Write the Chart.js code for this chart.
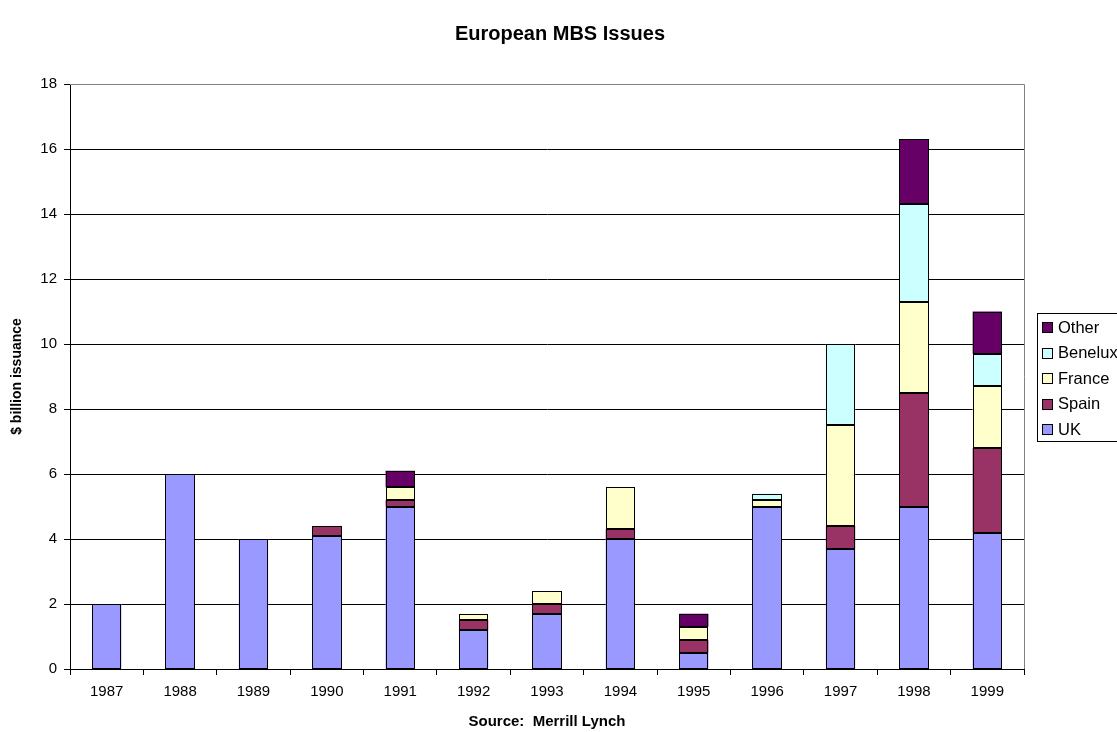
<!DOCTYPE html>
<html>
<head>
<meta charset="utf-8">
<script src="https://cdn.jsdelivr.net/npm/chart.js@4/dist/chart.umd.min.js"></script>
<style>
  body { margin: 0; background: #fff; }
  #wrap { width: 1117px; height: 732px; position: relative; }
</style>
</head>
<body>
<div id="wrap"><canvas id="mycanvas" width="1117" height="732"></canvas></div>
<script>
var years = ['1987', '1988', '1989', '1990', '1991', '1992', '1993', '1994', '1995', '1996', '1997', '1998', '1999'];
var uk      = [2.0, 6.0, 4.0, 4.1, 5.0, 1.2, 1.7, 4.0, 0.5, 5.0, 3.7, 5.0, 4.2];
var spain   = [0,   0,   0,   0.3, 0.2, 0.3, 0.3, 0.3, 0.4, 0,   0.7, 3.5, 2.6];
var france  = [0,   0,   0,   0,   0.4, 0.2, 0.4, 1.3, 0.4, 0.2, 3.1, 2.8, 1.9];
var benelux = [0,   0,   0,   0,   0,   0,   0,   0,   0,   0.2, 2.5, 3.0, 1.0];
var other   = [0,   0,   0,   0,   0.5, 0,   0,   0,   0.4, 0,   0,   2.0, 1.3];
var yTicks = [0, 2, 4, 6, 8, 10, 12, 14, 16, 18];

var fontFam = "'Liberation Sans', Arial, sans-serif";

function ds(label, data, color) {
	return {
		label: label,
		// empty segments are left out so they draw no border line
		data: data.map(function(v) { return v === 0 ? null : v; }),
		backgroundColor: color,
		borderWidth: 0,
		barPercentage: 0.4,
		categoryPercentage: 1.0
	};
}

var chartdata = {
	labels: years,
	datasets: [
		ds('UK', uk, '#9999FF'),
		ds('Spain', spain, '#993366'),
		ds('France', france, '#FFFFCC'),
		ds('Benelux', benelux, '#CCFFFF'),
		ds('Other', other, '#660066')
	]
};

// title, plot frame, crisp bar outlines and legend box
var extras = {
	id: 'extras',
	beforeDatasetsDraw: function(chart) {
		var ctx = chart.ctx, a = chart.chartArea;
		ctx.save();
		ctx.strokeStyle = '#808080';
		ctx.lineWidth = 1;
		ctx.beginPath();
		ctx.moveTo(a.left, a.top + 0.5);
		ctx.lineTo(a.right + 0.5, a.top + 0.5);
		ctx.lineTo(a.right + 0.5, a.bottom);
		ctx.stroke();
		ctx.restore();
	},
	afterDatasetsDraw: function(chart) {
		var ctx = chart.ctx;
		ctx.save();
		ctx.strokeStyle = '#000';
		ctx.lineWidth = 1;
		chart.data.datasets.forEach(function(d, i) {
			chart.getDatasetMeta(i).data.forEach(function(el, j) {
				if (d.data[j] == null) return;
				var p = el.getProps(['x', 'y', 'base', 'width'], true);
				var l = Math.round(p.x - p.width / 2) + 0.5;
				var r = Math.round(p.x + p.width / 2) - 0.5;
				var t = Math.round(p.y) + 0.5;
				var b = Math.round(p.base) - 0.5;
				ctx.strokeRect(l, t, r - l, b - t);
			});
		});
		ctx.restore();
	},
	afterDraw: function(chart) {
		var ctx = chart.ctx;
		ctx.save();
		ctx.fillStyle = '#000';
		ctx.font = 'bold 20px ' + fontFam;
		ctx.textAlign = 'center';
		ctx.textBaseline = 'middle';
		ctx.fillText('European MBS Issues', 560, 34);

		var x = 1037, y = 313, w = 100, h = 128;
		ctx.textAlign = 'left';
		ctx.fillStyle = '#fff';
		ctx.fillRect(x, y, w, h);
		ctx.strokeStyle = '#000';
		ctx.lineWidth = 1;
		ctx.strokeRect(x + 0.5, y + 0.5, w, h);
		ctx.font = '16.5px ' + fontFam;
		var sets = chart.data.datasets.slice().reverse();
		for (var i = 0; i < sets.length; i++) {
			var cy = 327 + i * 25.5;
			ctx.fillStyle = sets[i].backgroundColor;
			ctx.fillRect(1042, Math.round(cy) - 5, 11, 11);
			ctx.strokeStyle = '#000';
			ctx.strokeRect(1042.5, Math.round(cy) - 4.5, 10, 10);
			ctx.fillStyle = '#000';
			ctx.fillText(sets[i].label, 1058, cy + 1);
		}
		ctx.restore();
	}
};

var ctx = document.getElementById('mycanvas');
var barGraph = new Chart(ctx, {
	type: 'bar',
	data: chartdata,
	plugins: [extras],
	options: {
		responsive: false,
		animation: false,
		layout: { padding: { top: 84, left: 0, right: 93, bottom: 0 } },
		plugins: {
			legend: { display: false },
			tooltip: { enabled: false },
			title: { display: false }
		},
		scales: {
			x: {
				stacked: true,
				afterFit: function(s) { s.height = 63; },
				grid: { display: true, drawOnChartArea: false, tickLength: 6, color: '#000', offset: true },
				border: { color: '#000', width: 1 },
				ticks: { color: '#000', font: { family: fontFam, size: 15 }, padding: 8, maxRotation: 0 },
				title: {
					display: true,
					text: 'Source:  Merrill Lynch',
					color: '#000',
					font: { family: fontFam, size: 15, weight: 'bold' },
					padding: { top: 2, bottom: 1 }
				}
			},
			y: {
				stacked: true,
				min: 0,
				max: 18,
				afterFit: function(s) { s.width = 70; },
				afterBuildTicks: function(s) { s.ticks = yTicks.map(function(v) { return { value: v }; }); },
				grid: { color: '#000', tickLength: 6 },
				border: { color: '#000', width: 1 },
				ticks: { color: '#000', font: { family: fontFam, size: 15 }, padding: 7 },
				title: {
					display: true,
					text: '$ billion issuance',
					color: '#000',
					font: { family: fontFam, size: 14, weight: 'bold' },
					padding: { top: 9, bottom: 0 }
				}
			}
		}
	}
});
</script>
</body>
</html>
